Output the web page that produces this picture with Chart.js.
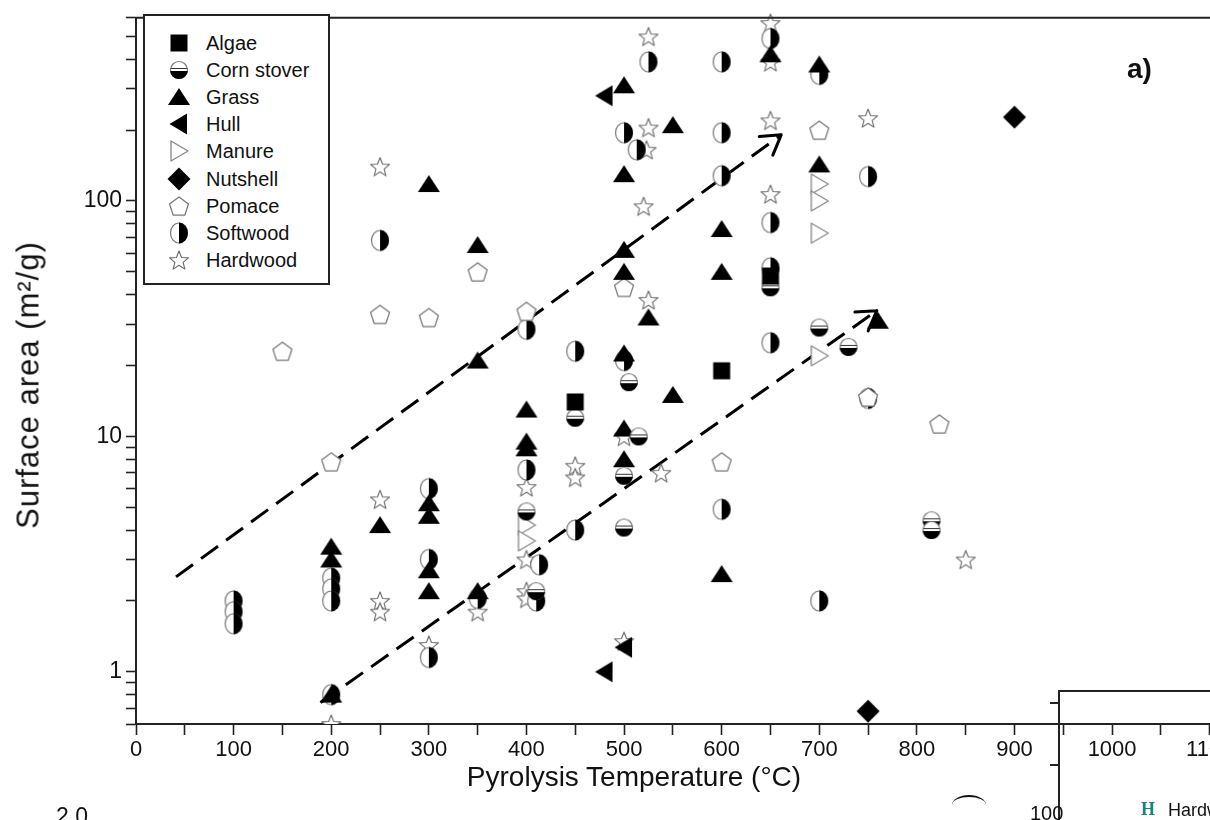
<!DOCTYPE html>
<html>
<head>
<meta charset="utf-8">
<script src="https://cdn.jsdelivr.net/npm/chart.js@4.4.0/dist/chart.umd.min.js"></script>
<style>
  html, body { margin: 0; padding: 0; background: #fff; overflow: hidden; width: 1210px; height: 820px; }
  #wrap { position: absolute; left: 0; top: 0; width: 1250px; height: 820px; }
  .txt { position: absolute; font-family: 'Liberation Sans', Arial, sans-serif; color: #111; white-space: nowrap; line-height: 1; }
  #legend { position: absolute; left: 143px; top: 14px; width: 183px; height: 267px; border: 2px solid #222; background: #fff; }
  .item { position: absolute; left: 0; height: 26px; }
  .item canvas { position: absolute; left: 21px; top: 0; }
  .item span { position: absolute; left: 61px; top: 0; line-height: 26px; font-family: 'Liberation Sans', Arial, sans-serif; font-size: 20px; color: #111; white-space: nowrap; }
</style>
</head>
<body>
<div id="wrap"><canvas id="plot"></canvas></div>

<div id="legend"></div>
<div class="txt" id="ytitle" style="left:28px; top:385px; font-size:31px; letter-spacing:1px; transform:translate(-50%,-50%) rotate(-90deg);">Surface area (m²/g)</div>
<div class="txt" style="left:634px; top:777px; font-size:28px; transform:translate(-50%,-50%);">Pyrolysis Temperature (°C)</div>
<div class="txt" style="left:1127px; top:55px; font-size:28px; font-weight:bold;">a)</div>

<!-- bits of the next panel that show at the page edge -->
<div class="txt" style="left:56px; top:805px; font-size:23px;">2.0</div>
<div style="position:absolute; left:1058px; top:690px; width:200px; height:200px; border-left:2px solid #222; border-top:2px solid #222;"></div>
<div style="position:absolute; left:1050px; top:702px; width:8px; height:2px; background:#222;"></div>
<div style="position:absolute; left:1050px; top:764px; width:8px; height:2px; background:#222;"></div>
<div style="position:absolute; left:952px; top:795px; width:34px; height:18px; border-top:2px solid #111; border-radius:50%;"></div>
<div class="txt" style="left:1030px; top:803px; font-size:20px;">100</div>
<div class="txt" style="left:1141px; top:800px; font-size:18px; font-weight:bold; font-family:'Liberation Serif', serif; color:#16877a;">H</div>
<div class="txt" style="left:1168px; top:801px; font-size:18px;">Hardwood</div>

<script>
// surface area (m2/g) vs pyrolysis temperature (C)
const algae = [[450, 14], [600, 19], [650, 48]];
const cornStover = [[450, 12], [505, 17], [515, 10], [500, 6.8], [500, 4.1], [400, 4.8], [410, 2.2],
  [650, 43], [700, 29], [730, 24], [815, 4.4], [815, 4.0]];
const grass = [[200, 3.4], [200, 3.0], [200, 0.8], [250, 4.2], [300, 118], [300, 5.2], [300, 4.6], [300, 2.7],
  [300, 2.2], [350, 65], [350, 21], [350, 2.2], [400, 13], [400, 9.5], [400, 8.9], [500, 310], [500, 130],
  [500, 62], [500, 50], [500, 22.5], [500, 10.8], [500, 8], [525, 32], [550, 210], [550, 15], [600, 76],
  [600, 50], [600, 2.6], [650, 420], [700, 380], [700, 143], [760, 31]];
const hull = [[480, 280], [480, 1.0], [500, 1.27]];
const manure = [[400, 4.2], [400, 3.6], [700, 118], [700, 100], [700, 73], [700, 22]];
const nutshell = [[750, 0.68], [900, 227]];
const pomace = [[150, 23], [200, 7.8], [250, 33], [300, 32], [350, 50], [400, 34], [500, 43], [600, 7.8],
  [700, 200], [750, 14.7], [823, 11.3]];
const softwood = [[100, 2.0], [100, 1.8], [100, 1.6], [200, 2.5], [200, 2.25], [200, 2.0], [200, 0.8],
  [250, 68], [300, 6.0], [300, 3.0], [300, 1.15], [350, 2.05], [400, 28.5], [400, 7.2], [413, 2.85],
  [410, 2.0], [450, 23], [450, 4.0], [500, 195], [500, 21], [513, 165], [525, 390], [600, 390], [600, 195],
  [600, 128], [600, 4.9], [650, 490], [650, 81], [650, 52], [650, 25], [700, 345], [700, 2.0], [750, 127],
  [750, 14.5]];
const hardwood = [[200, 0.6], [250, 140], [250, 5.4], [250, 2.0], [250, 1.8], [300, 1.3], [350, 1.8],
  [400, 6.1], [400, 3.0], [400, 2.2], [400, 2.05], [450, 7.5], [450, 6.7], [500, 10], [500, 1.35],
  [520, 95], [523, 165], [525, 500], [525, 205], [525, 38], [538, 7.0], [650, 570], [650, 390], [650, 220],
  [650, 107], [750, 225], [850, 3.0]];

// the two dashed trend arrows (tail, head)
const arrowUpper = [[41, 2.53], [661, 191]];
const arrowLower = [[189, 0.74], [759, 34.2]];

const xTicks = [0, 50, 100, 150, 200, 250, 300, 350, 400, 450, 500, 550, 600, 650, 700, 750, 800, 850, 900, 950, 1000, 1050, 1100];
const yTicks = [0.6, 0.7, 0.8, 0.9, 1, 2, 3, 4, 5, 6, 7, 8, 9, 10, 20, 30, 40, 50, 60, 70, 80, 90, 100, 200, 300, 400, 500, 600];
const yLabelled = [1, 10, 100];

const FONT = "'Liberation Sans', Arial, sans-serif";
const GREY = '#777';

// marker glyphs
function marker(draw) {
    const c = document.createElement('canvas');
    c.width = 26; c.height = 26;
    const g = c.getContext('2d');
    g.lineJoin = 'round';
    draw(g, 13, 13);
    return c;
}
function poly(g, pts) {
    g.beginPath();
    pts.forEach((p, i) => i ? g.lineTo(p[0], p[1]) : g.moveTo(p[0], p[1]));
    g.closePath();
}

const markers = {
    algae: marker((g, x, y) => { g.fillStyle = '#000'; g.fillRect(x - 8.5, y - 8.5, 17, 17); }),
    corn: marker((g, x, y) => {
        g.fillStyle = '#fff'; g.strokeStyle = GREY; g.lineWidth = 1.2;
        g.beginPath(); g.arc(x, y, 8.5, 0, Math.PI * 2); g.fill(); g.stroke();
        g.fillStyle = '#000';
        g.beginPath(); g.moveTo(x - 8.9, y + 1); g.arc(x, y + 0.2, 8.9, 0.1, Math.PI - 0.1); g.closePath(); g.fill();
        g.strokeStyle = '#333'; g.lineWidth = 1;
        g.beginPath(); g.moveTo(x - 8.3, y - 1.5); g.lineTo(x + 8.3, y - 1.5); g.stroke();
    }),
    grass: marker((g, x, y) => { g.fillStyle = '#000'; poly(g, [[x, y - 9], [x + 11, y + 8], [x - 11, y + 8]]); g.fill(); }),
    hull: marker((g, x, y) => { g.fillStyle = '#000'; poly(g, [[x + 8, y - 10.5], [x - 9.5, y], [x + 8, y + 10.5]]); g.fill(); }),
    manure: marker((g, x, y) => {
        g.fillStyle = '#fff'; g.strokeStyle = '#888'; g.lineWidth = 1.3;
        poly(g, [[x - 8, y - 10], [x + 9, y], [x - 8, y + 10]]); g.fill(); g.stroke();
    }),
    nutshell: marker((g, x, y) => { g.fillStyle = '#000'; poly(g, [[x, y - 11.5], [x + 11.5, y], [x, y + 11.5], [x - 11.5, y]]); g.fill(); }),
    pomace: marker((g, x, y) => {
        const pts = [];
        for (let k = 0; k < 5; k++) {
            const a = -Math.PI / 2 + k * 2 * Math.PI / 5;
            pts.push([x + 10 * Math.cos(a), y + 1 + 10 * Math.sin(a)]);
        }
        g.fillStyle = '#fff'; g.strokeStyle = GREY; g.lineWidth = 1.3;
        poly(g, pts); g.fill(); g.stroke();
    }),
    softwood: marker((g, x, y) => {
        g.fillStyle = '#fff'; g.strokeStyle = GREY; g.lineWidth = 1.2;
        g.beginPath(); g.ellipse(x, y, 8.5, 10, 0, 0, Math.PI * 2); g.fill(); g.stroke();
        g.fillStyle = '#000';
        g.beginPath(); g.moveTo(x, y - 10.4); g.ellipse(x, y, 8.9, 10.4, 0, -Math.PI / 2, Math.PI / 2); g.closePath(); g.fill();
    }),
    hardwood: marker((g, x, y) => {
        const pts = [];
        for (let k = 0; k < 10; k++) {
            const a = -Math.PI / 2 + k * Math.PI / 5;
            const r = k % 2 ? 4.3 : 10;
            pts.push([x + r * Math.cos(a), y + 1 + r * Math.sin(a)]);
        }
        g.fillStyle = '#fff'; g.strokeStyle = '#6a6a6a'; g.lineWidth = 1.1;
        poly(g, pts); g.fill(); g.stroke();
    })
};

const series = [
    { label: 'Algae', data: algae, style: markers.algae },
    { label: 'Corn stover', data: cornStover, style: markers.corn },
    { label: 'Grass', data: grass, style: markers.grass },
    { label: 'Hull', data: hull, style: markers.hull },
    { label: 'Manure', data: manure, style: markers.manure },
    { label: 'Nutshell', data: nutshell, style: markers.nutshell },
    { label: 'Pomace', data: pomace, style: markers.pomace },
    { label: 'Softwood', data: softwood, style: markers.softwood },
    { label: 'Hardwood', data: hardwood, style: markers.hardwood }
];

const toXY = arr => arr.map(p => ({ x: p[0], y: p[1] }));

const datasets = series.map(s => ({
    label: s.label,
    data: toXY(s.data),
    pointStyle: s.style,
    pointRadius: 10,
    clip: { left: 14, top: 14, right: 14, bottom: 0 }
}));

[arrowUpper, arrowLower].forEach(a => datasets.push({
    label: 'trend',
    data: toXY(a),
    showLine: true,
    arrow: true,
    borderColor: '#000',
    borderWidth: 3,
    borderDash: [21, 10],
    pointRadius: 0,
    fill: false,
    clip: false
}));

// legend inside the plot, top left
const legendEl = document.getElementById('legend');
series.forEach((s, i) => {
    const row = document.createElement('div');
    row.className = 'item';
    row.style.top = (14 + i * 27.1) + 'px';
    const c = document.createElement('canvas');
    c.width = 26; c.height = 26;
    c.getContext('2d').drawImage(s.style, 0, 0);
    const t = document.createElement('span');
    t.textContent = s.label;
    row.appendChild(c); row.appendChild(t);
    legendEl.appendChild(row);
});

// open arrow heads at the end of the dashed lines
const arrowHeads = {
    id: 'arrowHeads',
    afterDatasetsDraw(chart) {
        const c = chart.ctx;
        chart.data.datasets.forEach((ds, i) => {
            if (!ds.arrow) return;
            const pts = chart.getDatasetMeta(i).data;
            const a = pts[0], b = pts[pts.length - 1];
            const ang = Math.atan2(b.y - a.y, b.x - a.x);
            c.save();
            c.strokeStyle = '#000'; c.lineWidth = 3; c.lineCap = 'round'; c.setLineDash([]);
            c.beginPath();
            [-0.55, 0.55].forEach(d => {
                c.moveTo(b.x, b.y);
                c.lineTo(b.x - 22 * Math.cos(ang + d), b.y - 22 * Math.sin(ang + d));
            });
            c.stroke();
            c.restore();
        });
    }
};

// frame line along the top of the plot
const topFrame = {
    id: 'topFrame',
    afterDraw(chart) {
        const c = chart.ctx, area = chart.chartArea;
        c.save();
        c.strokeStyle = '#222'; c.lineWidth = 2;
        c.beginPath(); c.moveTo(area.left - 1, area.top); c.lineTo(area.right, area.top); c.stroke();
        c.restore();
    }
};

new Chart(document.getElementById('plot'), {
    type: 'scatter',
    data: { datasets: datasets },
    options: {
        responsive: true,
        maintainAspectRatio: false,
        animation: false,
        events: [],
        layout: { padding: { top: 8, right: 8, left: 0, bottom: 0 } },
        plugins: { legend: { display: false }, tooltip: { enabled: false } },
        scales: {
            x: {
                type: 'linear', min: 0, max: 1130,
                afterFit: s => { s.height = 96; },
                afterBuildTicks: s => { s.ticks = xTicks.map(v => ({ value: v })); },
                grid: { drawOnChartArea: false, tickLength: 11, tickColor: '#222', tickWidth: 1.6 },
                border: { display: true, color: '#222', width: 2 },
                ticks: {
                    autoSkip: false, maxRotation: 0, padding: 2, color: '#111',
                    font: { family: FONT, size: 22 },
                    callback: v => (v % 100 === 0 ? String(v) : '')
                }
            },
            y: {
                type: 'logarithmic', min: 0.6, max: 600,
                afterFit: s => { s.width = 136; },
                afterBuildTicks: s => { s.ticks = yTicks.map(v => ({ value: v })); },
                grid: { drawOnChartArea: false, tickLength: 10, tickColor: '#222', tickWidth: 1.6 },
                border: { display: true, color: '#222', width: 2 },
                ticks: {
                    autoSkip: false, padding: 4, color: '#111',
                    font: { family: FONT, size: 23 },
                    callback: v => (yLabelled.includes(v) ? String(v) : '')
                }
            }
        }
    },
    plugins: [arrowHeads, topFrame]
});
</script>
</body>
</html>
